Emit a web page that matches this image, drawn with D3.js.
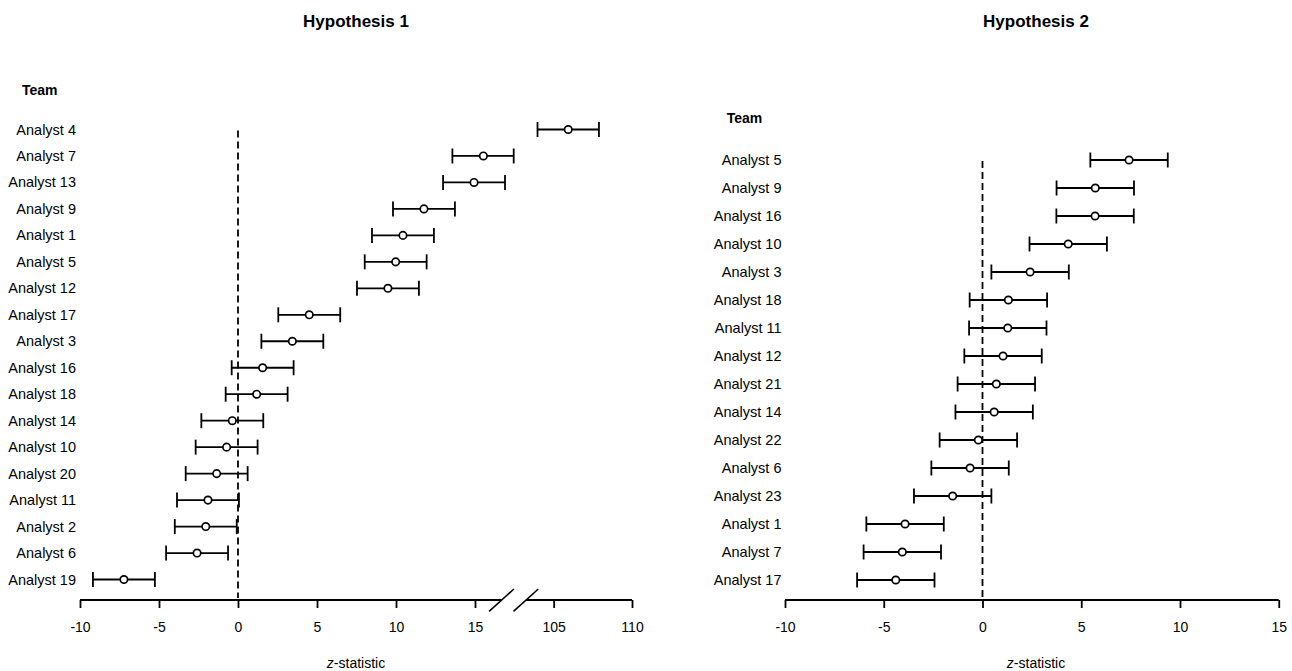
<!DOCTYPE html>
<html>
<head>
<meta charset="utf-8">
<script src="https://cdn.jsdelivr.net/npm/d3@7"></script>
<style>
  body { margin: 0; background: #fff; }
  svg { display: block; }
  text { font-family: "Liberation Sans", Arial, Helvetica, sans-serif; fill: #000; }
</style>
</head>
<body>
<svg id="chart" width="1292" height="671"></svg>
<script>
// Team estimates (z-statistics), top row first
const teams1 = ["Analyst 4", "Analyst 7", "Analyst 13", "Analyst 9", "Analyst 1", "Analyst 5",
  "Analyst 12", "Analyst 17", "Analyst 3", "Analyst 16", "Analyst 18", "Analyst 14",
  "Analyst 10", "Analyst 20", "Analyst 11", "Analyst 2", "Analyst 6", "Analyst 19"];
const z1 = [105.93, 15.53, 14.94, 11.77, 10.44, 9.98, 9.49, 4.51, 3.44, 1.56, 1.18, -0.36,
  -0.72, -1.35, -1.90, -2.04, -2.59, -7.22];

const teams2 = ["Analyst 5", "Analyst 9", "Analyst 16", "Analyst 10", "Analyst 3", "Analyst 18",
  "Analyst 11", "Analyst 12", "Analyst 21", "Analyst 14", "Analyst 22", "Analyst 6",
  "Analyst 23", "Analyst 1", "Analyst 7", "Analyst 17"];
const z2 = [7.42, 5.71, 5.70, 4.34, 2.41, 1.31, 1.28, 1.04, 0.70, 0.59, -0.21, -0.63,
  -1.51, -3.92, -4.06, -4.39];

const ticks1 = [-10, -5, 0, 5, 10, 15, 105, 110];
const ticks2 = [-10, -5, 0, 5, 10, 15];

// 95% interval half-width on the z scale
const Z_CRIT = 1.96;

const svg = d3.select("#chart");
const AXIS_Y = 600;

function panel(cfg) {
  const g = svg.append("g");
  const x = cfg.x, y = cfg.y;

  // panel title
  g.append("text")
    .attr("x", cfg.titleX).attr("y", 26.5)
    .attr("text-anchor", "middle")
    .attr("font-size", 17).attr("font-weight", "bold")
    .text(cfg.title);

  // "Team" header
  g.append("text")
    .attr("x", cfg.teamX).attr("y", cfg.teamY)
    .attr("font-size", 14).attr("font-weight", "bold")
    .text("Team");

  // row labels
  g.selectAll("text.row").data(cfg.teams).join("text")
    .attr("class", "row")
    .attr("x", cfg.labelRight).attr("y", d => y(d) + 5)
    .attr("text-anchor", "end")
    .attr("font-size", 14.5)
    .text(d => d);

  // reference line at zero
  g.append("line")
    .attr("x1", x(0)).attr("x2", x(0))
    .attr("y1", y(cfg.teams[0]) + 1).attr("y2", AXIS_Y - 2)
    .attr("stroke", "#000").attr("stroke-width", 1.8)
    .attr("stroke-dasharray", "7,4");

  const rows = cfg.teams.map((t, i) => ({ team: t, z: cfg.z[i] }));

  // interval bars with end caps
  const bars = g.selectAll("g.bar").data(rows).join("g").attr("class", "bar");
  bars.append("line")
    .attr("x1", d => x(d.z - Z_CRIT)).attr("x2", d => x(d.z + Z_CRIT))
    .attr("y1", d => y(d.team)).attr("y2", d => y(d.team))
    .attr("stroke", "#000").attr("stroke-width", 1.8);
  bars.append("line")
    .attr("x1", d => x(d.z - Z_CRIT)).attr("x2", d => x(d.z - Z_CRIT))
    .attr("y1", d => y(d.team) - 7.5).attr("y2", d => y(d.team) + 7.5)
    .attr("stroke", "#000").attr("stroke-width", 1.8);
  bars.append("line")
    .attr("x1", d => x(d.z + Z_CRIT)).attr("x2", d => x(d.z + Z_CRIT))
    .attr("y1", d => y(d.team) - 7.5).attr("y2", d => y(d.team) + 7.5)
    .attr("stroke", "#000").attr("stroke-width", 1.8);
  bars.append("circle")
    .attr("cx", d => x(d.z)).attr("cy", d => y(d.team))
    .attr("r", 3.7)
    .attr("fill", "#fff").attr("stroke", "#000").attr("stroke-width", 1.7);

  // x axis
  const axis = d3.axisBottom(x)
    .tickValues(cfg.ticks)
    .tickFormat(d => String(d))
    .tickSize(8).tickSizeOuter(0).tickPadding(14);
  const ax = g.append("g").attr("transform", `translate(0,${AXIS_Y})`).call(axis);
  ax.select(".domain").remove();
  ax.selectAll(".tick line").attr("stroke", "#000").attr("stroke-width", 1.8);
  ax.selectAll(".tick text")
    .attr("font-size", 14)
    .attr("font-family", '"Liberation Sans", Arial, Helvetica, sans-serif')
    .attr("fill", "#000");

  cfg.segments.forEach(([a, b]) => {
    g.append("line")
      .attr("x1", x(a)).attr("x2", x(b))
      .attr("y1", AXIS_Y).attr("y2", AXIS_Y)
      .attr("stroke", "#000").attr("stroke-width", 1.8);
  });

  // axis break marks
  if (cfg.breakAt !== undefined) {
    const cx = x(cfg.breakAt);
    [-12.2, 12.2].forEach(off => {
      g.append("line")
        .attr("x1", cx + off - 12.4).attr("y1", AXIS_Y + 11.3)
        .attr("x2", cx + off + 12.4).attr("y2", AXIS_Y - 11)
        .attr("stroke", "#000").attr("stroke-width", 1.6);
    });
  }

  // x axis title
  const lab = g.append("text")
    .attr("x", cfg.titleX).attr("y", 667.5)
    .attr("text-anchor", "middle")
    .attr("font-size", 14);
  lab.append("tspan").attr("font-style", "italic").text("z");
  lab.append("tspan").text("-statistic");
}

// Hypothesis 1: broken axis, 15 ... 105
const x1 = d3.scaleLinear()
  .domain([-10, 17.45, 102.45, 110])
  .range([80, 513.7, 513.7, 632]);
const y1 = d3.scalePoint().domain(teams1).range([129.5, 579.5]);

panel({
  title: "Hypothesis 1", titleX: 356,
  teamX: 22, teamY: 94.7,
  labelRight: 76,
  teams: teams1, z: z1, x: x1, y: y1,
  ticks: ticks1,
  segments: [[-10, 16.68], [103.23, 110]],
  breakAt: 17.45
});

// Hypothesis 2
const x2 = d3.scaleLinear().domain([-10, 15]).range([785, 1278.75]);
const y2 = d3.scalePoint().domain(teams2).range([160, 580]);

panel({
  title: "Hypothesis 2", titleX: 1036,
  teamX: 726.7, teamY: 123,
  labelRight: 781.5,
  teams: teams2, z: z2, x: x2, y: y2,
  ticks: ticks2,
  segments: [[-10, 15]]
});
</script>
</body>
</html>
